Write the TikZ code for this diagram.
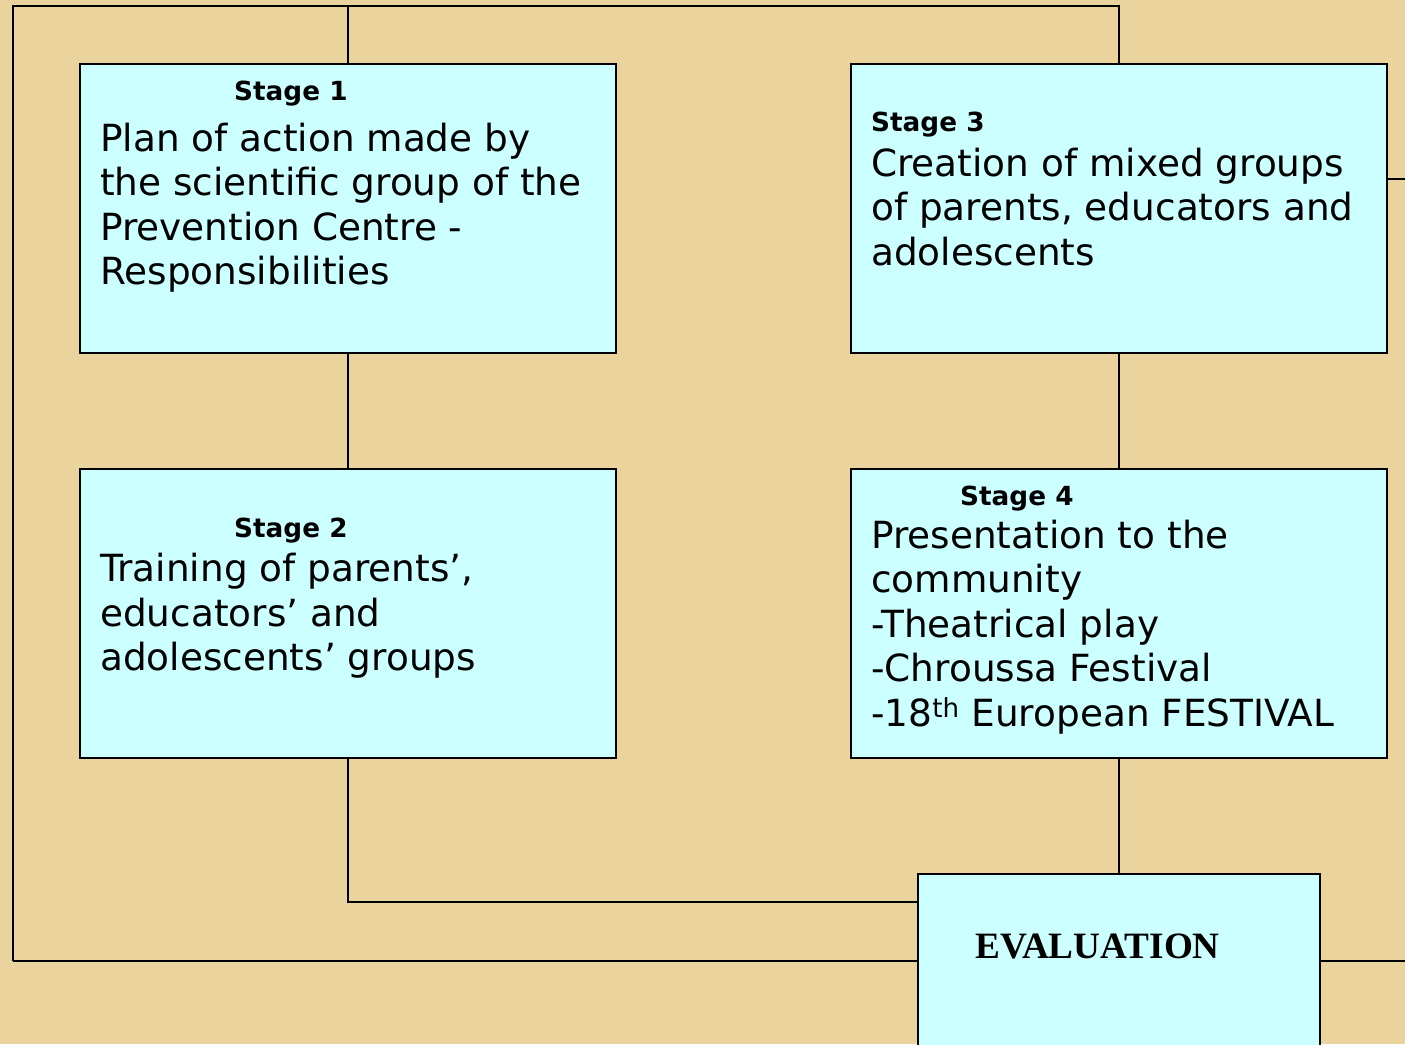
\documentclass[tikz,border=0pt]{standalone}
\usepackage{fontspec}
\setmainfont{DejaVu Sans}
\newfontfamily\evalfont{Liberation Serif}
\definecolor{bg}{HTML}{EBD39E}
\definecolor{boxfill}{HTML}{CCFFFF}
\newcommand{\bodytext}[1]{\parbox[t]{530pt}{\raggedright\fontsize{37.4}{44.6}\selectfont #1}}
\begin{document}
\begin{tikzpicture}[x=1pt,y=-1pt,
  stagebox/.style={draw=black, line width=1.8pt, fill=boxfill, minimum width=536pt, minimum height=289pt, inner sep=0pt},
  evalbox/.style={draw=black, line width=1.8pt, fill=boxfill, minimum width=402pt, minimum height=200pt, inner sep=0pt},
  conn/.style={draw=black, line width=1.8pt},
  lbl/.style={anchor=base west, inner sep=0pt, font=\bfseries\fontsize{26.3}{30}\selectfont},
  bodylbl/.style={anchor=base west, inner sep=0pt}]
\useasboundingbox (0,0) rectangle (1405,1044);
\clip (0,0) rectangle (1405,1044);
\fill[bg] (0,0) rectangle (1405,1044);

% coordinates for connector corners
\coordinate (tl) at (13,6);
\coordinate (bl) at (13,961);
\coordinate (mid) at (348,902);
\coordinate (r1) at (1405,179);
\coordinate (r2) at (1405,961);

% boxes
\node[stagebox] (s1) at (348,208.5) {};
\node[stagebox] (s2) at (348,613.5) {};
\node[stagebox] (s3) at (1119,208.5) {};
\node[stagebox] (s4) at (1119,613.5) {};
\node[evalbox] (ev) at (1119,974) {};

% connectors
\draw[conn] (s1.north) -- (s1.north |- tl);
\draw[conn] (bl) -- (tl) -- (s3.north |- tl) -- (s3.north);
\draw[conn] (bl) -- (ev.west |- bl);
\draw[conn] (s1.south) -- (s2.north);
\draw[conn] (s2.south) |- (ev.west |- mid);
\draw[conn] (s3.south) -- (s4.north);
\draw[conn] (s4.south) -- (ev.north);
\draw[conn] (s3.east |- r1) -- (r1);
\draw[conn] (ev.east |- r2) -- (r2);

% texts
\node[lbl] (l1) at (234,100.5) {Stage 1};
\node[bodylbl] (t1) at (100,151) {\bodytext{Plan of action made by\\the scientific group of the\\Prevention Centre -\\Responsibilities}};

\node[lbl] (l2) at (234,537) {Stage 2};
\node[bodylbl] (t2) at (100,581.5) {\bodytext{Training of parents’,\\educators’ and\\adolescents’ groups}};

\node[lbl] (l3) at (871,131) {Stage 3};
\node[bodylbl] (t3) at (871,176) {\bodytext{Creation of mixed groups\\of parents, educators and\\adolescents}};

\node[lbl] (l4) at (960,505) {Stage 4};
\node[bodylbl] (t4) at (871,548) {\bodytext{Presentation to the\\community\\-Theatrical play\\-Chroussa Festival\\-18\textsuperscript{th} European FESTIVAL}};

\node[anchor=base west, inner sep=0pt, font=\evalfont\bfseries\fontsize{37.2}{40}\selectfont] (et) at (975,958) {EVALUATION};
\end{tikzpicture}
\end{document}
